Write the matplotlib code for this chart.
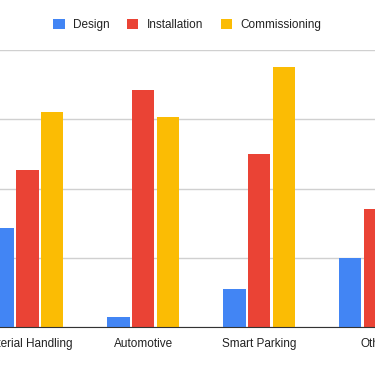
import numpy as np
import matplotlib.pyplot as plt

plt.rcParams['font.family'] = ['Liberation Sans', 'DejaVu Sans']

# data (grid step = 10)
categories = ['Material Handling', 'Automotive', 'Smart Parking', 'Other']
design = [14.3, 1.4, 5.5, 10.0]
installation = [22.6, 34.2, 25.0, 17.1]
commissioning = [31.1, 30.3, 37.6, 20.0]

series = ['Design', 'Installation', 'Commissioning']
colors = ['#4285F4', '#EA4335', '#FBBC04']

fig = plt.figure(figsize=(3.75, 3.66), dpi=100)
ax = fig.add_axes([0, 1 - 327 / 366, 1, (327 - 50) / 366])

x = np.arange(len(categories))
offset = 0.214
width = 0.195
for k, (vals, name, c) in enumerate(zip([design, installation, commissioning], series, colors)):
    ax.bar(x + (k - 1) * offset, vals, width, color=c, label=name, zorder=3)

ax.set_xlim(-0.235, 2.916)
ax.set_ylim(0, 40)
ax.set_yticks([0, 10, 20, 30, 40])
ax.yaxis.grid(True, color='#d0d0d0', linewidth=1, zorder=0)
ax.tick_params(axis='y', left=False, labelleft=False)
ax.tick_params(axis='x', length=0, pad=8, labelsize=8.5, labelcolor='#222222')
ax.set_xticks(x)
ax.set_xticklabels(categories)
for s in ['top', 'right', 'left']:
    ax.spines[s].set_visible(False)
ax.spines['bottom'].set_color('#333333')
ax.spines['bottom'].set_zorder(4)

fig.legend(loc='center', bbox_to_anchor=(0.5, 1 - 25 / 366), ncol=3, frameon=False,
           fontsize=8.5, handlelength=0.95, handleheight=0.95, handletextpad=0.75,
           columnspacing=1.45, labelcolor='#222222')

fig.savefig('out.png', dpi=100)
